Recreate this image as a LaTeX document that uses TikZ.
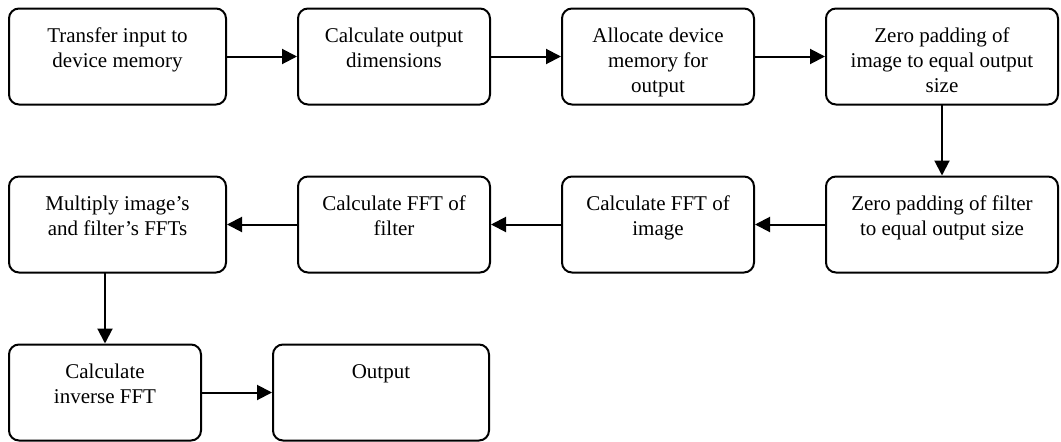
\documentclass[tikz,border=0pt]{standalone}
\usepackage{fontspec}
\setmainfont{Liberation Serif}
\usetikzlibrary{arrows.meta, positioning}

% text of a box: fixed height, lines from the top
\newcommand{\boxtext}[2]{\parbox[c][96pt][t]{#1}{\centering\rule{0pt}{34pt}#2}}

\begin{document}
\begin{tikzpicture}[node distance = 72pt,
    font = \fontsize{21pt}{25pt}\selectfont,
    proc/.style = {draw, line width=2pt, rounded corners=10pt, inner sep=0pt, outer sep=0pt},
    flow/.style = {-{Triangle[length=15pt, width=15pt]}, line width=2pt, shorten >=1pt}]
  \useasboundingbox (0,0) rectangle (1061pt,-442pt);
  % first row
  \node[proc, anchor=north west] (transfer) at (9pt,-8.5pt) {\boxtext{217pt}{Transfer input to\\device memory}};
  \node[proc] (dims) [right=of transfer] {\boxtext{192pt}{Calculate output\\dimensions}};
  \node[proc] (alloc) [right=of dims] {\boxtext{192pt}{Allocate device\\memory for\\output}};
  \node[proc] (padimg) [right=of alloc] {\boxtext{232pt}{Zero padding of\\image to equal output\\size}};
  % second row
  \node[proc] (padfilt) [below=of padimg] {\boxtext{232pt}{Zero padding of filter\\to equal output size}};
  \node[proc] (fftimg) [left=of padfilt] {\boxtext{192pt}{Calculate FFT of\\image}};
  \node[proc] (fftfilt) [left=of fftimg] {\boxtext{192pt}{Calculate FFT of\\filter}};
  \node[proc] (mult) [left=of fftfilt] {\boxtext{217pt}{Multiply image’s\\and filter’s FFTs}};
  % third row
  \node[proc] (inv) [below right=72pt and 0pt of mult.south west] {\boxtext{192pt}{Calculate\\inverse FFT}};
  \node[proc] (out) [right=of inv] {\boxtext{216pt}{Output}};
  \path[flow]
    (transfer) edge (dims)
    (dims) edge (alloc)
    (alloc) edge (padimg)
    (padimg) edge (padfilt)
    (padfilt) edge (fftimg)
    (fftimg) edge (fftfilt)
    (fftfilt) edge (mult)
    (mult.south -| inv.north) edge (inv.north)
    (inv) edge (out);
\end{tikzpicture}
\end{document}
